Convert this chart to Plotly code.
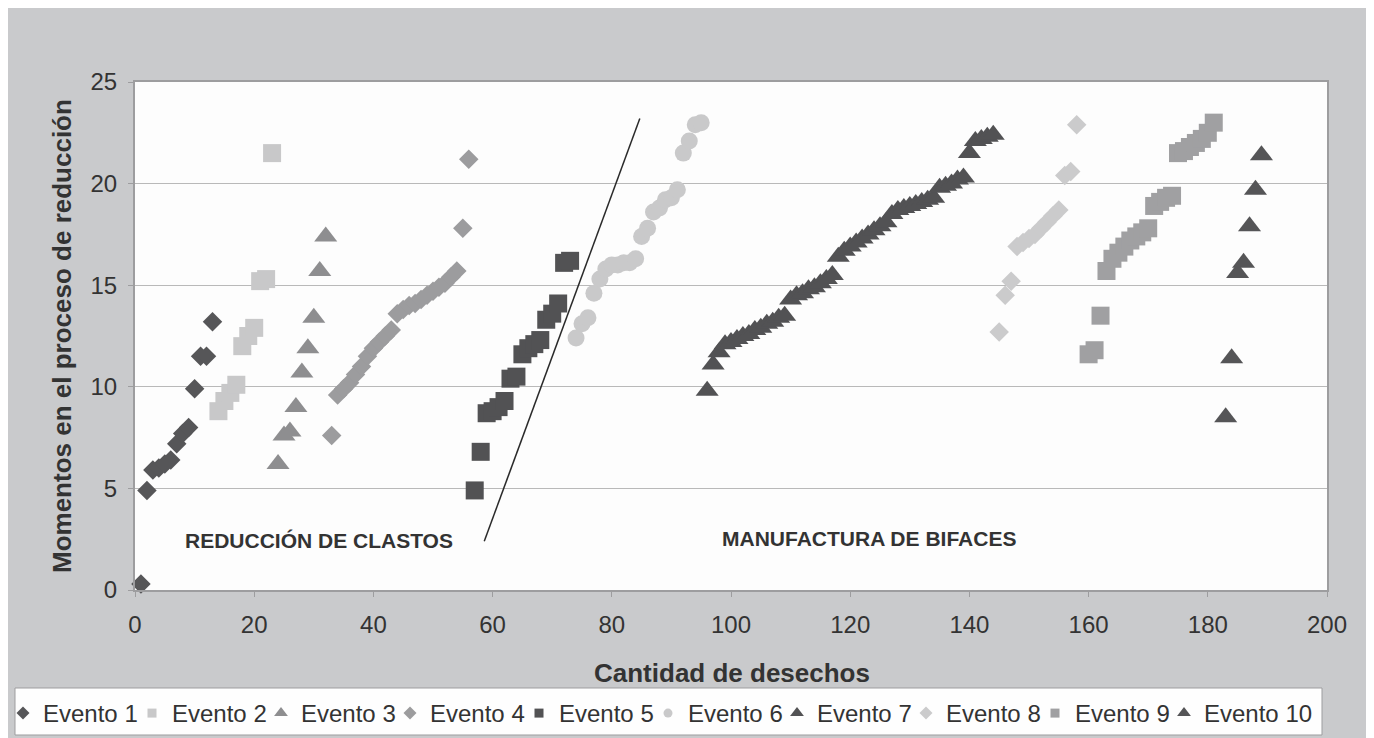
import plotly.graph_objects as go

# ---------------- data ----------------
e1_x = [1, 2, 3, 4, 5, 6, 7, 8, 9, 10, 11, 12, 13]
e1_y = [0.3, 4.9, 5.9, 6.0, 6.2, 6.4, 7.2, 7.7, 8.0, 9.9, 11.5, 11.5, 13.2]

e2_x = [14, 15, 16, 17, 18, 19, 20, 21, 22, 23]
e2_y = [8.8, 9.3, 9.7, 10.1, 12.0, 12.5, 12.9, 15.2, 15.3, 21.5]

e3_x = [24, 25, 26, 27, 28, 29, 30, 31, 32]
e3_y = [6.2, 7.6, 7.8, 9.0, 10.7, 11.9, 13.4, 15.7, 17.4]

e4_x = [33, 34, 35, 36, 37, 38, 39, 40, 41, 42, 43, 44, 45, 46, 47, 48, 49, 50,
        51, 52, 53, 54, 55, 56]
e4_y = [7.6, 9.6, 9.9, 10.2, 10.6, 11.0, 11.5, 11.9, 12.2, 12.5, 12.8, 13.6, 13.8,
        14.0, 14.1, 14.3, 14.5, 14.7, 14.9, 15.1, 15.4, 15.7, 17.8, 21.2]

e5_x = [57, 58, 59, 60, 61, 62, 63, 64, 65, 66, 67, 68, 69, 70, 71, 72, 73]
e5_y = [4.9, 6.8, 8.7, 8.8, 9.0, 9.3, 10.4, 10.5, 11.6, 11.9, 12.1, 12.3, 13.3,
        13.6, 14.1, 16.1, 16.2]

e6_x = [74, 75, 76, 77, 78, 79, 80, 81, 82, 83, 84, 85, 86, 87, 88, 89, 90, 91,
        92, 93, 94, 95]
e6_y = [12.4, 13.1, 13.4, 14.6, 15.3, 15.8, 16.0, 16.0, 16.1, 16.1, 16.3, 17.4,
        17.8, 18.6, 18.8, 19.2, 19.3, 19.7, 21.5, 22.1, 22.9, 23.0]

e7_x = [96, 97, 98, 99, 100, 101, 102, 103, 104, 105, 106, 107, 108, 109,
        110, 111, 112, 113, 114, 115, 116, 117,
        118, 119, 120, 121, 122, 123, 124, 125, 126,
        127, 128, 129, 130, 131, 132, 133, 134,
        135, 136, 137, 138, 139,
        140, 141, 142, 143, 144]
e7_y = [9.8, 11.1, 11.7, 12.1, 12.2, 12.35, 12.5, 12.6, 12.8, 12.9, 13.1, 13.2, 13.4, 13.5,
        14.3, 14.5, 14.6, 14.8, 14.9, 15.1, 15.3, 15.5,
        16.4, 16.7, 16.9, 17.1, 17.3, 17.5, 17.7, 17.9, 18.1,
        18.5, 18.7, 18.8, 18.9, 19.0, 19.1, 19.2, 19.3,
        19.8, 19.9, 20.0, 20.2, 20.3,
        21.5, 22.1, 22.2, 22.3, 22.4]

e8_x = [145, 146, 147, 148, 149, 150, 151, 152, 153, 154, 155, 156, 157, 158]
e8_y = [12.7, 14.5, 15.2, 16.9, 17.1, 17.3, 17.5, 17.8, 18.1, 18.4, 18.7, 20.4, 20.6, 22.9]

e9_x = [160, 161, 162, 163, 164, 165, 166, 167, 168, 169, 170,
        171, 172, 173, 174, 175, 176, 177, 178, 179, 180, 181]
e9_y = [11.6, 11.8, 13.5, 15.7, 16.3, 16.6, 16.9, 17.2, 17.4, 17.6, 17.8,
        18.9, 19.1, 19.3, 19.4, 21.5, 21.6, 21.8, 22.0, 22.2, 22.5, 23.0]

e10_x = [183, 184, 185, 186, 187, 188, 189]
e10_y = [8.5, 11.4, 15.6, 16.1, 17.9, 19.7, 21.4]

series_names = ["Evento 1", "Evento 2", "Evento 3", "Evento 4", "Evento 5",
                "Evento 6", "Evento 7", "Evento 8", "Evento 9", "Evento 10"]
series_x = [e1_x, e2_x, e3_x, e4_x, e5_x, e6_x, e7_x, e8_x, e9_x, e10_x]
series_y = [e1_y, e2_y, e3_y, e4_y, e5_y, e6_y, e7_y, e8_y, e9_y, e10_y]

# dividing line between the two phases
divider_x = [58.6, 84.7]
divider_y = [2.4, 23.2]

phase_labels = ["REDUCCIÓN DE CLASTOS", "MANUFACTURA DE BIFACES"]
phase_label_x = [30.9, 123.2]
phase_label_y = [2.45, 2.55]

x_ticks = [0, 20, 40, 60, 80, 100, 120, 140, 160, 180, 200]
y_ticks = [0, 5, 10, 15, 20, 25]

x_title = "Cantidad de desechos"
y_title = "Momentos en el proceso de reducción"

# ---------------- styles ----------------
symbols = ["diamond", "square", "triangle-up", "diamond", "square",
           "circle", "triangle-up", "diamond", "square", "triangle-up"]
colors = ["#565658", "#c8c8c9", "#8e8e90", "#9c9c9e", "#525254",
          "#c9c9ca", "#525254", "#cbcbcc", "#a0a0a2", "#555557"]
sizes = {"diamond": 15, "square": 18, "triangle-up": 20, "circle": 17}
legend_sizes = {"diamond": 10, "square": 9, "triangle-up": 12, "circle": 9}

FONT = "Arial, Liberation Sans, sans-serif"
TEXT = "#333333"
BG = "#c9cacc"
AXIS = "#9d9d9f"

# page offset of the figure (default body margin of the html page)
OFF = 8
W, H = 1366, 730
L, R, T, B = 127, 47, 74, 148
PW, PH = W - L - R, H - T - B
PLOT_LEFT_PAGE = L + OFF
PLOT_BOTTOM_PAGE = T + OFF + PH


def px_x(p):
    return (p - PLOT_LEFT_PAGE) / PW


def px_y(p):
    return (PLOT_BOTTOM_PAGE - p) / PH


fig = go.Figure()

for name, xs, ys, sym, col in zip(series_names, series_x, series_y, symbols, colors):
    fig.add_trace(go.Scatter(
        x=xs, y=ys, mode="markers", name=name, showlegend=False,
        cliponaxis=False,
        marker=dict(symbol=sym, color=col, size=sizes[sym], line=dict(width=0)),
    ))

# legend entries (smaller symbols like the original); last one in a 2nd legend
n = len(series_names)
for i, (name, sym, col) in enumerate(zip(series_names, symbols, colors)):
    fig.add_trace(go.Scatter(
        x=[None], y=[None], mode="markers", name=name, showlegend=True,
        legend="legend2" if i == n - 1 else "legend",
        marker=dict(symbol=sym, color=col, size=legend_sizes[sym], line=dict(width=0)),
    ))
    if i == n - 2:
        # invisible spacer so the preceding entry is not clipped
        fig.add_trace(go.Scatter(
            x=[None], y=[None], mode="markers", name=" ", showlegend=True,
            legend="legend", hoverinfo="skip",
            marker=dict(color="rgba(0,0,0,0)", size=1, line=dict(width=0)),
        ))

fig.add_trace(go.Scatter(
    x=divider_x, y=divider_y, mode="lines", showlegend=False,
    line=dict(color="#2a2a2a", width=1.5), hoverinfo="skip",
))

annotations = []
for txt, ax, ay in zip(phase_labels, phase_label_x, phase_label_y):
    annotations.append(dict(
        x=ax, y=ay, xref="x", yref="y", text=txt, showarrow=False,
        font=dict(family=FONT, size=21, color=TEXT, weight="bold"),
        xanchor="center", yanchor="middle",
    ))
annotations.append(dict(
    x=px_x(732), y=px_y(673), xref="paper", yref="paper", text=x_title,
    showarrow=False, xanchor="center", yanchor="middle",
    font=dict(family=FONT, size=26, color=TEXT, weight="bold"),
))
annotations.append(dict(
    x=px_x(62), y=0.5, xref="paper", yref="paper", text=y_title,
    showarrow=False, xanchor="center", yanchor="middle", textangle=-90,
    font=dict(family=FONT, size=26, color=TEXT, weight="bold"),
))

shapes = [
    # legend box
    dict(type="rect", xref="paper", yref="paper",
         x0=px_x(15), x1=px_x(1322), y0=px_y(735), y1=px_y(688),
         fillcolor="#fefefe", line=dict(width=1, color=AXIS), layer="above"),
]

PITCH = 129
LEG_X0 = 3
LEG_TOP = 691
legend_common = dict(
    orientation="h", xanchor="left", yanchor="top",
    bgcolor="rgba(0,0,0,0)", borderwidth=0,
    font=dict(family=FONT, size=24, color=TEXT),
    itemwidth=30, tracegroupgap=0,
)

fig.update_layout(
    width=W, height=H, autosize=False,
    margin=dict(l=L, r=R, t=T, b=B, pad=0, autoexpand=False),
    paper_bgcolor=BG, plot_bgcolor="#fdfdfd",
    font=dict(family=FONT, size=24, color=TEXT),
    annotations=annotations, shapes=shapes,
    legend=dict(x=px_x(LEG_X0), y=px_y(LEG_TOP), entrywidth=PITCH - 45,
                entrywidthmode="pixels", **legend_common),
    legend2=dict(x=px_x(LEG_X0 + 9 * PITCH), y=px_y(LEG_TOP), **legend_common),
    xaxis=dict(
        range=[0, 200], tickvals=x_ticks, showgrid=False, zeroline=False,
        showline=True, mirror=True, linecolor=AXIS, linewidth=2,
        ticks="outside", ticklen=5, tickcolor=AXIS, tickwidth=1,
        tickfont=dict(family=FONT, size=24, color=TEXT),
        ticklabelstandoff=7, automargin=False,
    ),
    yaxis=dict(
        range=[0, 25], tickvals=y_ticks, showgrid=True, gridcolor="#b9b9b9",
        gridwidth=1, zeroline=False,
        showline=True, mirror=True, linecolor=AXIS, linewidth=2,
        ticks="outside", ticklen=5, tickcolor=AXIS, tickwidth=1,
        tickfont=dict(family=FONT, size=24, color=TEXT),
        ticklabelstandoff=6, automargin=False,
    ),
    hovermode=False,
)

fig.write_html("out.html")
